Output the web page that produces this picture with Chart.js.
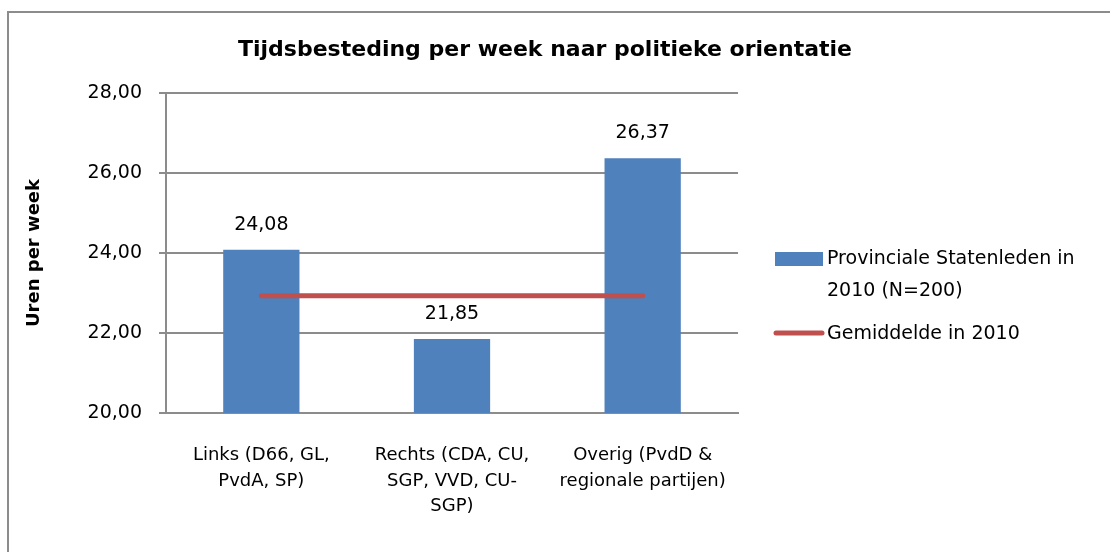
<!DOCTYPE html>
<html>
<head>
<meta charset="utf-8">
<script src="https://cdn.jsdelivr.net/npm/chart.js@4.4.1/dist/chart.umd.min.js"></script>
<style>
html,body{margin:0;padding:0;background:#fff;}
#wrap{position:relative;width:1110px;height:552px;}
</style>
</head>
<body>
<div id="wrap"><canvas id="c" width="1110" height="552"></canvas></div>
<script>
const categories = [
  ["Links (D66, GL,", "PvdA, SP)"],
  ["Rechts (CDA, CU,", "SGP, VVD, CU-", "SGP)"],
  ["Overig (PvdD &", "regionale partijen)"]
];
const barValues = [24.08, 21.85, 26.37];
const averageValues = [22.93, 22.93, 22.93];
const barLabel = ["Provinciale Statenleden in", "2010 (N=200)"];
const lineLabel = "Gemiddelde in 2010";
const titleText = "Tijdsbesteding per week naar politieke orientatie";
const yTitle = "Uren per week";
const yMin = 20, yMax = 28, yStep = 2;

const FONT = "'DejaVu Sans', sans-serif";
const BLUE = "#4F81BD";
const RED = "#C0504D";
const GRID = "#8c8c8c";

const fmt = v => v.toFixed(2).replace('.', ',');

const extras = {
  id: 'extras',
  afterDraw(chart) {
    const ctx = chart.ctx;
    ctx.save();
    // outer frame
    ctx.strokeStyle = "#8c8c8c";
    ctx.lineWidth = 2;
    ctx.strokeRect(8, 12, 1200, 700);
    // title
    ctx.fillStyle = "#000";
    ctx.font = "bold 22px " + FONT;
    ctx.textAlign = "center";
    ctx.textBaseline = "middle";
    ctx.fillText(titleText, 545, 50);
    // data labels
    const meta = chart.getDatasetMeta(1);
    ctx.font = "19px " + FONT;
    meta.data.forEach((bar, i) => {
      ctx.fillText(fmt(barValues[i]), bar.x, bar.y - 25);
    });
    // legend
    ctx.textAlign = "left";
    ctx.font = "19px " + FONT;
    ctx.fillStyle = BLUE;
    ctx.fillRect(775, 252, 48, 14);
    ctx.fillStyle = "#000";
    ctx.fillText(barLabel[0], 827, 259);
    ctx.fillText(barLabel[1], 827, 291);
    ctx.strokeStyle = RED;
    ctx.lineWidth = 5;
    ctx.lineCap = "round";
    ctx.beginPath();
    ctx.moveTo(776, 333);
    ctx.lineTo(822, 333);
    ctx.stroke();
    ctx.fillText(lineLabel, 827, 334);
    ctx.restore();
  }
};

new Chart(document.getElementById('c'), {
  data: {
    labels: categories,
    datasets: [
      {
        type: 'line',
        label: lineLabel,
        data: averageValues,
        borderColor: RED,
        borderWidth: 5,
        borderCapStyle: 'round',
        pointRadius: 0,
        fill: false,
        order: 0
      },
      {
        type: 'bar',
        label: barLabel.join(' '),
        data: barValues,
        backgroundColor: BLUE,
        borderWidth: 0,
        categoryPercentage: 1,
        barPercentage: 0.4,
        order: 1
      }
    ]
  },
  plugins: [extras],
  options: {
    responsive: false,
    animation: false,
    devicePixelRatio: 1,
    layout: { padding: { left: 24, top: 93, right: 372, bottom: 0 } },
    plugins: {
      legend: { display: false },
      title: { display: false },
      tooltip: { enabled: false }
    },
    scales: {
      x: {
        grid: { display: false, drawTicks: false },
        border: { display: true, color: GRID, width: 2 },
        ticks: {
          color: "#000",
          font: { family: FONT, size: 18, lineHeight: 1.44 },
          padding: 29,
          maxRotation: 0,
          autoSkip: false
        },
        afterFit(scale) { scale.height = 552 - 413; }
      },
      y: {
        min: yMin,
        max: yMax,
        grid: { color: GRID, lineWidth: 2, tickLength: 7, drawTicks: true },
        border: { display: true, color: GRID, width: 2 },
        ticks: {
          stepSize: yStep,
          color: "#000",
          font: { family: FONT, size: 19 },
          padding: 17,
          callback: v => fmt(v)
        },
        title: {
          display: true,
          text: yTitle,
          color: "#000",
          font: { family: FONT, size: 18, weight: 'bold' },
          padding: 0
        },
        afterFit(scale) { scale.width = 166 - 24; }
      }
    }
  }
});
</script>
</body>
</html>
